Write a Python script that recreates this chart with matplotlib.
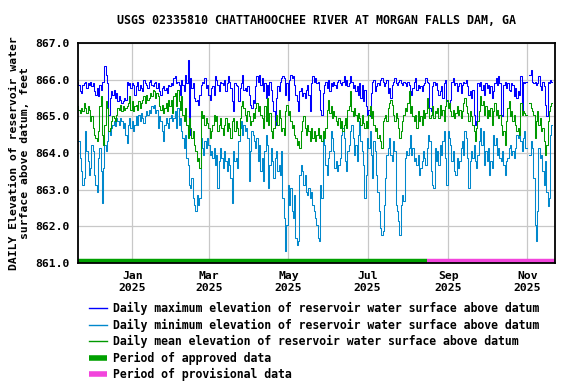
"""USGS-style daily reservoir elevation plot, Chattahoochee River at Morgan Falls Dam."""
import numpy as np
import pandas as pd
import matplotlib
matplotlib.use("Agg")
import matplotlib.pyplot as plt
import matplotlib.dates as mdates

nan = np.nan

# daily values, 2024-11-20 .. 2025-11-20 (feet)
start_date = "2024-11-20"
approved_end = "2025-08-16"

max_ft = [
    865.95, 865.86, 865.68, 865.64, 865.86, 865.91, 865.95, 865.77, 865.91, 865.86,
    865.95, 865.82, 865.91, 865.68, 865.59, 865.77, 865.55, 865.86, 865.73, 865.95,
    865.95, 866.36, 866.14, 865.91, 865.05, 865.50, 865.68, 865.59, 865.73, 865.50,
    865.64, 865.41, 865.55, 865.45, 865.36, 865.41, 865.50, 865.45, 865.95, 865.86,
    865.91, 865.77, 865.91, 865.86, 865.59, 865.82, 865.95, 865.73, 865.86, 865.77,
    865.68, 866.00, 865.91, 865.86, 865.77, 865.95, 866.00, 865.86, 865.82, 865.91,
    865.95, 865.77, 865.91, 865.68, 865.59, 865.77, 865.82, 865.73, 865.77, 865.64,
    865.86, 865.82, 865.91, 865.86, 866.05, 866.09, 865.91, 865.95, 865.86, 865.59,
    866.00, 865.86, 865.68, 866.14, 865.91, 866.55, 864.50, 866.05, 865.77, 865.91,
    865.50, 865.41, 865.45, 865.32, 865.59, 865.86, 865.95, 865.91, 866.05, 865.77,
    865.86, 865.59, 865.45, 865.77, 865.82, 865.59, 866.09, 866.00, 865.86, 865.68,
    865.95, 865.91, 865.86, 866.00, 865.68, 865.91, 866.09, 865.95, 865.77, 865.41,
    865.14, 865.91, 865.86, 865.82, 865.41, 865.77, 865.91, 866.14, 865.73, 865.77,
    865.68, 865.82, 865.59, 865.32, 865.23, 865.45, 865.36, 865.82, 866.09, 865.95,
    866.14, 865.86, 866.05, 865.68, 865.91, 865.50, 865.86, 865.59, 865.95, 865.73,
    865.41, 865.14, 864.77, 865.50, 865.82, 865.68, 865.95, 866.05, 866.09, 866.05,
    865.59, 865.91, 865.45, 866.00, 866.14, 866.05, 866.09, 865.86, 865.59, 865.41,
    865.14, 865.68, 865.77, 865.55, 865.64, 865.50, 865.73, 865.86, 865.59, 865.14,
    865.91, 866.09, 865.95, 866.05, 865.91, 865.95, 865.73, 865.18, 865.05, 865.64,
    865.86, 865.95, 865.77, 866.00, 865.68, 865.91, 865.82, 865.95, 865.86, 865.77,
    865.95, 866.00, 865.91, 865.86, 865.95, 866.09, 865.86, 866.00, 865.82, 865.91,
    866.09, 865.95, 865.77, 865.86, 865.68, 865.82, 865.59, 865.91, 865.50, 865.86,
    865.41, 865.73, 865.27, 865.05, 865.18, 865.00, 865.64, 865.95, 866.00, 865.68,
    865.82, 865.91, 865.86, 866.00, 866.05, 865.95, 865.82, 865.91, 866.00, 865.64,
    865.77, 865.50, 865.86, 865.95, 866.05, 865.91, 865.86, 865.95, 866.00, 865.91,
    865.86, 865.95, 865.91, 865.82, 865.95, 865.86, 865.68, 865.59, 865.77, 865.95,
    866.05, 865.73, 865.86, 865.77, 865.82, 865.68, 865.86, 865.91, 866.05, 865.95,
    865.91, 865.23, 865.14, 865.82, 865.95, 865.86, 865.91, 865.73, 865.59, 865.68,
    865.82, 865.50, 865.91, 866.00, 865.41, 865.32, 865.27, 865.45, 865.95, 866.05,
    865.86, 865.91, 865.68, 865.82, 865.91, 865.64, 865.86, 865.95, 865.91, 866.00,
    865.82, 865.59, 865.68, 865.50, 865.73, 865.05, 864.77, 864.86, 865.91, 865.82,
    865.95, 865.73, 865.86, 865.59, 865.91, 865.77, 865.86, 865.64, 865.82, 865.50,
    865.68, 865.91, 866.05, 865.86, 866.09, 865.91, 865.05, 865.00, 865.86, 865.95,
    865.77, 865.91, 865.73, 865.68, 865.91, 865.86, 865.55, 865.77, 865.50, 865.68,
    865.59, 866.09, 865.14, 865.95, 865.91, 865.95, nan, nan, 866.14, 866.27,
    865.95, 865.91, 865.95, 865.86, 865.91, 866.09, 865.82, 865.73, 865.95, 865.82,
    865.32, 865.00, 865.95, 865.91, 866.00, 865.95,
]

min_ft = [
    864.32, 864.32, 863.86, 863.50, 863.14, 863.32, 864.59, 864.05, 863.77, 863.41,
    863.59, 864.23, 864.05, 863.41, 863.14, 862.95, 863.86, 864.14, 863.50, 862.64,
    863.59, 864.23, 864.05, 864.32, 864.59, 864.50, 864.68, 864.77, 864.86, 864.73,
    864.95, 864.86, 864.77, 864.95, 864.86, 864.68, 864.82, 864.50, 864.27, 864.77,
    864.95, 864.68, 864.86, 864.59, 864.77, 865.00, 864.77, 865.05, 864.86, 865.09,
    864.95, 864.82, 865.00, 865.14, 865.05, 865.18, 865.09, 865.27, 865.23, 865.32,
    865.09, 865.18, 864.68, 865.00, 864.86, 864.59, 864.32, 864.77, 864.95, 864.82,
    864.68, 864.95, 865.05, 864.86, 864.95, 865.14, 864.68, 865.23, 864.77, 864.95,
    864.59, 864.41, 864.14, 864.50, 863.86, 863.68, 863.14, 863.05, 863.32, 862.77,
    862.59, 862.41, 862.86, 862.59, 862.77, 864.41, 864.14, 863.95, 864.32, 864.14,
    864.41, 864.23, 863.95, 864.05, 863.86, 864.14, 863.68, 863.95, 863.05, 863.77,
    864.14, 863.86, 863.59, 864.05, 863.77, 863.50, 863.86, 863.68, 863.32, 862.64,
    864.05, 863.77, 863.86, 863.59, 864.32, 864.68, 864.86, 864.50, 864.77, 864.59,
    864.68, 864.41, 863.23, 864.05, 864.59, 864.50, 864.32, 864.14, 864.41, 863.77,
    864.23, 863.50, 863.86, 863.23, 864.05, 864.50, 864.23, 863.05, 863.68, 864.14,
    863.77, 863.32, 863.86, 864.05, 863.50, 863.68, 863.41, 864.05, 862.77, 862.23,
    861.32, 862.05, 863.14, 862.59, 863.05, 862.41, 862.23, 862.86, 861.68, 861.50,
    861.59, 863.41, 863.68, 863.50, 863.14, 863.41, 862.95, 862.86, 863.05, 862.77,
    862.95, 862.59, 862.41, 862.23, 862.05, 861.68, 861.59, 863.14, 862.77, 864.41,
    864.23, 863.68, 863.41, 863.86, 864.05, 864.59, 864.41, 864.05, 863.59, 863.77,
    863.50, 863.68, 863.86, 864.50, 864.68, 864.41, 863.77, 863.50, 864.05, 864.23,
    864.59, 864.77, 864.41, 863.95, 864.23, 863.77, 864.50, 864.86, 864.32, 864.05,
    863.68, 862.77, 863.41, 864.41, 864.14, 864.59, 863.95, 863.32, 864.32, 864.05,
    863.41, 862.95, 862.41, 861.95, 861.77, 861.86, 862.59, 863.32, 863.95, 864.14,
    864.41, 863.95, 863.77, 864.32, 864.05, 862.59, 862.41, 862.14, 861.77, 862.59,
    862.86, 862.68, 863.86, 864.05, 863.95, 864.14, 864.50, 863.95, 864.14, 863.77,
    863.86, 863.68, 863.95, 863.41, 863.59, 863.77, 864.05, 863.86, 863.68, 864.14,
    864.50, 864.32, 863.50, 863.14, 863.05, 864.14, 863.77, 864.05, 863.68, 864.23,
    863.95, 864.32, 864.59, 863.86, 863.14, 864.59, 864.41, 864.23, 863.77, 864.05,
    863.50, 863.41, 863.86, 863.59, 863.77, 864.14, 864.32, 863.95, 864.59, 864.41,
    863.86, 863.05, 863.77, 864.05, 863.86, 864.23, 863.77, 863.59, 863.95, 864.32,
    864.68, 864.23, 864.59, 863.68, 864.05, 863.77, 864.14, 863.41, 863.77, 863.59,
    864.50, 864.23, 864.41, 863.95, 864.14, 863.86, 863.77, 864.05, 863.68, 863.41,
    863.77, 863.86, 864.14, 864.23, 863.95, 864.05, 863.86, 864.14, 864.50, 864.41,
    864.59, 864.32, 864.05, 864.41, 864.59, 864.14, nan, nan, 863.95, 864.32,
    864.14, 863.32, 862.05, 861.59, 862.41, 864.14, 863.86, 863.95, 863.50, 863.14,
    863.77, 862.95, 862.55, 862.77, 864.50, 864.77,
]

mean_ft = [
    865.27, 865.18, 865.09, 865.23, 865.14, 865.36, 865.23, 865.09, 865.27, 865.18,
    864.86, 865.00, 864.68, 864.50, 864.41, 864.32, 864.59, 865.27, 865.55, 864.50,
    864.23, 864.77, 865.41, 865.23, 864.59, 864.68, 864.86, 865.00, 864.95, 864.86,
    865.05, 865.23, 865.18, 865.32, 865.14, 865.27, 865.18, 865.23, 865.27, 865.36,
    865.55, 865.18, 865.41, 865.14, 865.27, 865.32, 865.18, 865.41, 865.23, 865.36,
    865.45, 865.55, 865.36, 865.59, 865.45, 865.50, 865.64, 865.55, 865.73, 865.68,
    865.50, 865.64, 865.55, 865.27, 865.18, 865.32, 865.09, 865.23, 865.36, 865.14,
    865.45, 865.27, 865.45, 865.09, 865.55, 865.64, 865.27, 865.73, 865.41, 865.18,
    865.55, 865.05, 864.86, 865.23, 864.77, 864.41, 864.95, 864.68, 864.41, 864.59,
    864.23, 864.05, 863.77, 863.86, 863.59, 865.14, 864.95, 865.05, 864.77, 864.95,
    864.82, 864.68, 864.41, 864.59, 864.77, 865.05, 864.86, 865.00, 864.59, 864.77,
    864.95, 864.68, 864.50, 864.77, 864.95, 864.59, 864.82, 864.68, 864.41, 864.86,
    864.95, 864.59, 864.86, 864.68, 864.50, 864.95, 865.27, 865.41, 865.23, 865.05,
    864.86, 865.14, 865.00, 864.77, 864.86, 865.09, 864.95, 865.23, 865.36, 865.14,
    865.27, 865.05, 864.95, 864.68, 865.27, 864.86, 865.50, 864.77, 865.09, 864.59,
    864.41, 864.68, 864.86, 865.05, 864.77, 865.18, 864.95, 864.59, 864.68, 864.50,
    865.14, 865.32, 865.05, 865.14, 864.86, 864.68, 864.77, 864.50, 864.41, 864.23,
    864.32, 864.14, 864.59, 864.86, 865.00, 864.68, 864.50, 864.77, 864.59, 864.32,
    864.68, 864.41, 864.59, 864.32, 864.50, 864.68, 864.41, 864.50, 864.32, 864.59,
    864.41, 864.68, 865.18, 865.45, 865.09, 865.27, 864.95, 865.14, 865.00, 864.86,
    864.77, 864.95, 864.68, 864.86, 864.59, 864.77, 864.95, 864.68, 865.18, 865.27,
    865.68, 865.14, 865.00, 865.23, 865.05, 864.86, 865.09, 864.95, 864.77, 865.05,
    864.82, 864.68, 864.86, 864.68, 865.05, 865.27, 864.95, 865.14, 864.77, 864.59,
    864.68, 864.41, 864.50, 864.32, 864.14, 864.86, 864.95, 865.05, 864.86, 865.23,
    865.36, 865.45, 865.32, 865.05, 864.86, 865.09, 864.95, 864.68, 864.41, 864.59,
    864.86, 865.05, 865.23, 865.14, 865.36, 865.68, 865.09, 865.27, 865.00, 864.86,
    865.05, 864.68, 865.14, 864.86, 865.00, 864.77, 865.18, 864.95, 865.09, 865.50,
    865.23, 864.95, 865.05, 865.27, 864.95, 865.14, 865.09, 865.23, 864.95, 865.32,
    865.05, 865.18, 864.86, 865.27, 865.45, 865.23, 865.36, 865.14, 865.00, 865.18,
    864.95, 865.09, 865.27, 865.05, 865.18, 864.95, 865.14, 865.36, 865.50, 865.27,
    865.09, 864.86, 865.14, 865.00, 864.77, 864.59, 864.32, 864.68, 864.86, 865.14,
    865.55, 865.32, 865.41, 865.05, 865.27, 864.95, 865.18, 865.00, 865.23, 864.77,
    865.14, 865.36, 865.05, 865.18, 864.95, 865.05, 864.77, 864.50, 864.59, 864.23,
    864.86, 865.23, 865.41, 865.00, 865.14, 864.86, 865.05, 864.77, 864.59, 864.68,
    864.50, 865.36, 865.05, 865.14, 865.09, 865.05, nan, nan, 865.36, 865.23,
    865.14, 865.05, 864.41, 864.86, 865.14, 864.77, 864.95, 864.59, 864.68, 864.32,
    863.95, 864.23, 864.86, 865.14, 865.27, 865.36,
]

dates = pd.date_range(start_date, periods=len(max_ft), freq="D")

FONT = "DejaVu Sans Mono"
plt.rcParams["font.family"] = FONT
plt.rcParams["font.weight"] = "bold"
plt.rcParams["font.size"] = 8.2

fig = plt.figure(figsize=(5.76, 3.84), dpi=100)
ax = fig.add_axes([78 / 576, 1 - 263 / 384, 477 / 576, 220 / 384])

lw = 0.75
ax.plot(dates, max_ft, color="#0000ff", lw=lw, drawstyle="steps-mid",
        label="Daily maximum elevation of reservoir water surface above datum")
ax.plot(dates, min_ft, color="#0088cc", lw=lw, drawstyle="steps-mid",
        label="Daily minimum elevation of reservoir water surface above datum")
ax.plot(dates, mean_ft, color="#009900", lw=lw, drawstyle="steps-mid",
        label="Daily mean elevation of reservoir water surface above datum")

# approval status bars along the bottom
x0 = pd.Timestamp("2024-11-19")
x1 = pd.Timestamp(approved_end)
x2 = pd.Timestamp("2025-11-25")
ax.plot([x0, x1], [861.06, 861.06], color="#00a000", lw=3.2, solid_capstyle="butt",
        label="Period of approved data")
ax.plot([x1, x2], [861.06, 861.06], color="#f244dc", lw=3.2, solid_capstyle="butt",
        label="Period of provisional data")

ax.set_xlim(pd.Timestamp("2024-11-20 04:00"), pd.Timestamp("2025-11-22 05:00"))
ax.set_ylim(861.0, 867.0)
ax.set_yticks(np.arange(861, 867.5, 1.0))
ax.yaxis.set_major_formatter(matplotlib.ticker.FormatStrFormatter("%.1f"))
ax.xaxis.set_major_locator(mdates.MonthLocator(bymonth=[1, 3, 5, 7, 9, 11]))
ax.xaxis.set_major_formatter(mdates.DateFormatter("%b\n%Y"))
ax.tick_params(length=0, pad=6, labelsize=8.2)
ax.grid(True, color="#c8c8c8", lw=0.9)
ax.set_axisbelow(True)
for s in ax.spines.values():
    s.set_linewidth(1.3)

ax.set_title("USGS 02335810 CHATTAHOOCHEE RIVER AT MORGAN FALLS DAM, GA",
             fontsize=8.4, fontweight="bold", pad=14)
ax.set_ylabel("DAILY Elevation of reservoir water\nsurface above datum, feet",
              fontsize=8.2, fontweight="bold", labelpad=4, linespacing=1.15)

handles, labels = ax.get_legend_handles_labels()
leg = fig.legend(handles, labels, loc="upper left", bbox_to_anchor=(89 / 576, 1 - 302 / 384),
                 frameon=False, fontsize=8.3, handlelength=1.6, handletextpad=0.45,
                 labelspacing=0.3, borderpad=0, borderaxespad=0)
for h in leg.get_lines()[:3]:
    h.set_linewidth(1.0)
for h in leg.get_lines()[3:]:
    h.set_linewidth(4)

fig.savefig("out.png", dpi=100)
